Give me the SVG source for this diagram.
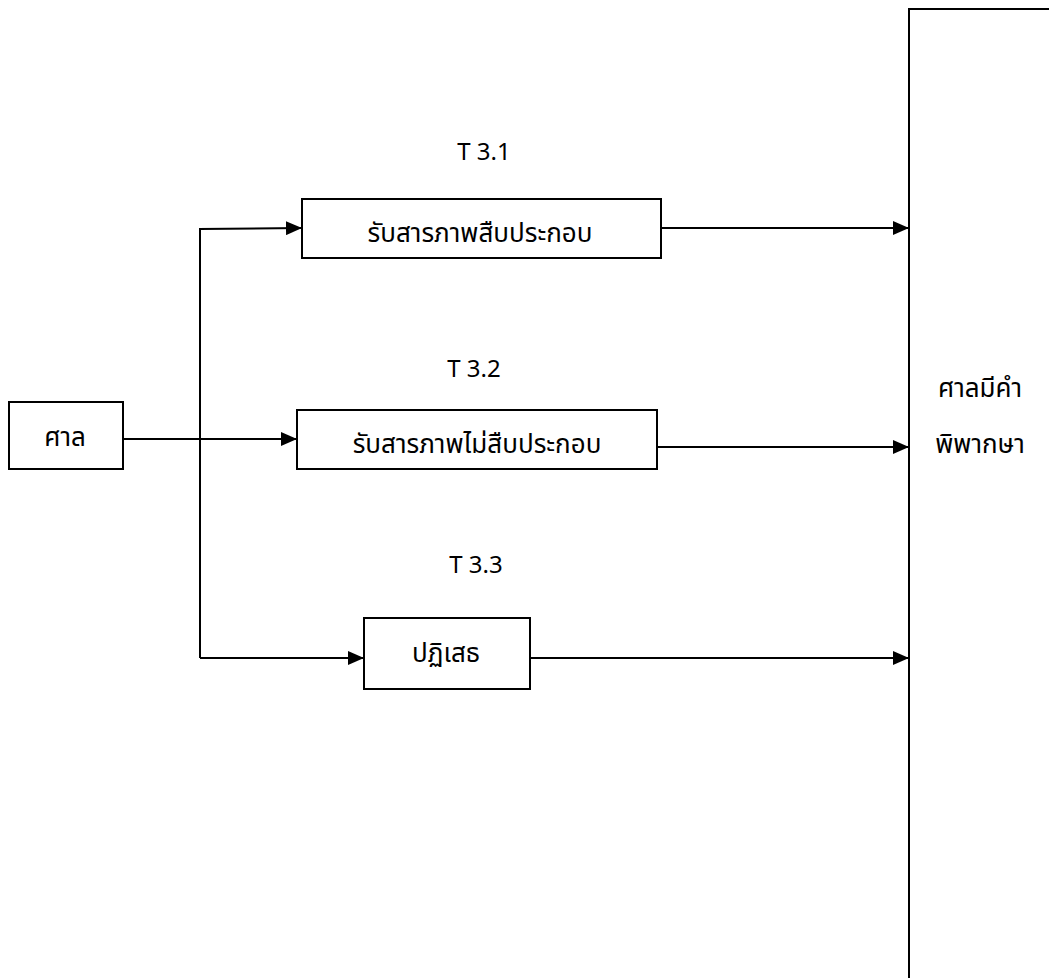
<svg xmlns="http://www.w3.org/2000/svg" width="1049" height="978" viewBox="0 0 1049 978">
<style>
.box{fill:#fff;stroke:#000;stroke-width:2}
.ln{fill:none;stroke:#000;stroke-width:2}
.t{font-family:"Noto Sans","Noto Sans Thai","DejaVu Sans",sans-serif;font-size:26px;fill:#000;text-anchor:middle}
.lbl{font-family:"Noto Sans","DejaVu Sans",sans-serif;font-size:24px;fill:#000;text-anchor:middle}
</style>
<defs>
<marker id="ah" viewBox="0 0 16 14" refX="16" refY="7" markerWidth="16" markerHeight="14" markerUnits="userSpaceOnUse" orient="auto">
<path d="M0,0 L16,7 L0,14 Z" fill="#000"/>
</marker>
</defs>
<rect width="1049" height="978" fill="#fff"/>
<g id="connectors">
<path class="ln" d="M123,439 L297,439" marker-end="url(#ah)"/>
<path class="ln" d="M200,658 L200,229 L302,228" marker-end="url(#ah)"/>
<path class="ln" d="M200,658 L364,658" marker-end="url(#ah)"/>
<path class="ln" d="M662,228 L909,228" marker-end="url(#ah)"/>
<path class="ln" d="M657,447 L909,447" marker-end="url(#ah)"/>
<path class="ln" d="M530,658 L909,658" marker-end="url(#ah)"/>
</g>
<g id="court">
<rect class="box" x="9" y="402" width="114" height="67"/>
<text class="t" x="65" y="446">ศาล</text>
</g>
<g id="t31">
<text class="lbl" x="484" y="160">T 3.1</text>
<rect class="box" x="302" y="199" width="359" height="59"/>
<text class="t" x="480" y="242">รับสารภาพสืบประกอบ</text>
</g>
<g id="t32">
<text class="lbl" x="474" y="377">T 3.2</text>
<rect class="box" x="297" y="410" width="360" height="59"/>
<text class="t" x="477" y="453">รับสารภาพไม่สืบประกอบ</text>
</g>
<g id="t33">
<text class="lbl" x="476" y="573">T 3.3</text>
<rect class="box" x="364" y="618" width="166" height="71"/>
<text class="t" x="446" y="662">ปฏิเสธ</text>
</g>
<g id="judgment">
<path class="ln" d="M909,978 L909,9 L1049,9"/>
<text class="t" x="980" y="397">ศาลมีคำ</text>
<text class="t" x="980" y="453">พิพากษา</text>
</g>
</svg>
